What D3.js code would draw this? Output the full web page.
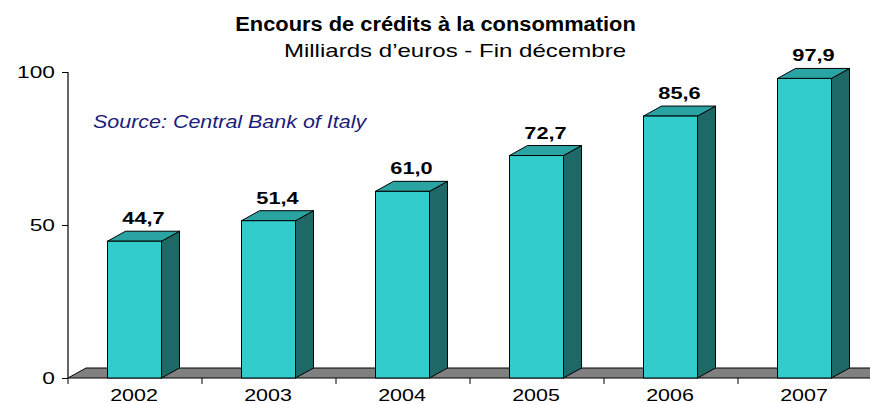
<!DOCTYPE html>
<html><head><meta charset="utf-8">
<script src="https://cdn.jsdelivr.net/npm/d3@7"></script>
<style>body{margin:0;background:#fff}svg{display:block}text{font-family:Arial,"Liberation Sans",sans-serif}</style>
</head><body>
<svg id="c" width="870" height="403"></svg>
<script>
const years = ["2002","2003","2004","2005","2006","2007"];
const values = [44.7, 51.4, 61.0, 72.7, 85.6, 97.9];
const valueLabels = ["44,7","51,4","61,0","72,7","85,6","97,9"];
const yTicks = [0, 50, 100];
const title = "Encours de crédits à la consommation";
const subtitle = "Milliards d\u2019euros - Fin décembre";
const source = "Source: Central Bank of Italy";

const svg = d3.select("#c");
const x = d3.scaleBand().domain(years).range([68, 872]);
const y = d3.scaleLinear().domain([0, 100]).range([378, 72]);
const dx = 18, dy = 10;
const bw = x.bandwidth();
const barW = 54;
const x0 = x.range()[0], x1 = x.range()[1], y0 = y(0);

function stretch(sel, f){
  sel.each(function(){
    const n = this.getComputedTextLength();
    d3.select(this).attr("textLength", n*f).attr("lengthAdjust","spacingAndGlyphs");
  });
}

// floor
svg.append("polygon")
  .attr("points", [[x0,y0],[x1,y0],[x1+dx,y0-dy],[x0+dx,y0-dy]].map(p=>p.join(",")).join(" "))
  .attr("fill","#808080").attr("stroke","#000").attr("stroke-width",1);

// y axis
const yAxis = d3.axisLeft(y).tickValues(yTicks).tickSize(6).tickPadding(7).tickFormat(d3.format("d"));
const ga = svg.append("g").attr("transform",`translate(${x0},0)`).call(yAxis);
ga.select(".domain").attr("d",`M0,${y(100)}V${y0}`).attr("stroke","#000").attr("stroke-width",1.2);
ga.selectAll("text").attr("font-size",16).attr("fill","#000").attr("font-family","Arial, 'Liberation Sans', sans-serif");
ga.selectAll("line").attr("stroke","#000");
stretch(ga.selectAll("text"), 1.42);

// x axis
const xAxis = d3.axisBottom(x).tickSize(0).tickPadding(11);
const gx = svg.append("g").attr("transform",`translate(-1,${y0})`).call(xAxis);
gx.select(".domain").remove();
gx.selectAll("text").attr("font-size",16.5).attr("fill","#000").attr("font-family","Arial, 'Liberation Sans', sans-serif");
stretch(gx.selectAll("text"), 1.3);
const bounds = years.map(d=>x(d)).concat([x1]);
svg.append("g").selectAll("line").data(bounds).join("line")
  .attr("x1",d=>d).attr("x2",d=>d).attr("y1",y0).attr("y2",y0+6).attr("stroke","#000");

// bars
const bars = svg.append("g").selectAll("g").data(years.map((d,i)=>({year:d,v:values[i],lab:valueLabels[i]}))).join("g");
bars.each(function(d){
  const g = d3.select(this);
  const l = x(d.year) + (bw - barW)/2 - 0.5, r = l + barW, t = y(d.v);
  g.append("polygon").attr("points",[[r,y0],[r,t],[r+dx,t-dy],[r+dx,y0-dy]].map(p=>p.join(",")).join(" "))
    .attr("fill","#1F6868").attr("stroke","#000").attr("stroke-width",1);
  g.append("polygon").attr("points",[[l,t],[r,t],[r+dx,t-dy],[l+dx,t-dy]].map(p=>p.join(",")).join(" "))
    .attr("fill","#2AA3A3").attr("stroke","#000").attr("stroke-width",1);
  g.append("rect").attr("x",l).attr("y",t).attr("width",barW).attr("height",y0-t)
    .attr("fill","#33CCCC").attr("stroke","#000").attr("stroke-width",1);
  const tx = g.append("text").attr("x",(l+r+dx)/2).attr("y",t-dy-7).attr("text-anchor","middle")
    .attr("font-size",17).attr("font-weight","bold").text(d.lab);
  stretch(tx, 1.28);
});

stretch(svg.append("text").attr("x",435.5).attr("y",31).attr("text-anchor","middle").attr("font-size",19.5).attr("font-weight","bold").text(title), 1.12);
stretch(svg.append("text").attr("x",455).attr("y",57).attr("text-anchor","middle").attr("font-size",18.5).text(subtitle), 1.30);
stretch(svg.append("text").attr("x",93).attr("y",128).attr("font-size",18.5).attr("font-style","italic").attr("fill","#1C1C7A").text(source), 1.16);
</script>
</body></html>
